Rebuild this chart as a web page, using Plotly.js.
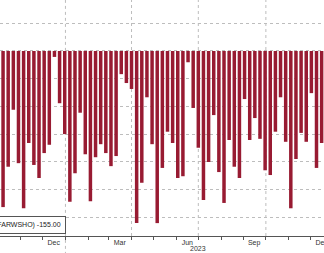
<!DOCTYPE html>
<html>
<head>
<meta charset="utf-8">
<script src="https://cdn.plot.ly/plotly-3.0.1.min.js"></script>
<style>html,body{margin:0;padding:0;background:#fff;overflow:hidden}#chart{width:324px;height:253px}</style>
</head>
<body>
<div id="chart"></div>
<script>
// Weekly observation dates
const weekDates = [
  '2022-10-08','2022-10-15','2022-10-22','2022-10-29','2022-11-05','2022-11-12','2022-11-19','2022-11-26',
  '2022-12-03','2022-12-10','2022-12-17','2022-12-24','2022-12-31',
  '2023-01-07','2023-01-14','2023-01-21','2023-01-28','2023-02-04','2023-02-11','2023-02-18','2023-02-25',
  '2023-03-04','2023-03-11','2023-03-18','2023-03-25','2023-04-01','2023-04-08','2023-04-15','2023-04-22',
  '2023-04-29','2023-05-06','2023-05-13','2023-05-20','2023-05-27','2023-06-03','2023-06-10','2023-06-17',
  '2023-06-24','2023-07-01','2023-07-08','2023-07-15','2023-07-22','2023-07-29','2023-08-05','2023-08-12',
  '2023-08-19','2023-08-26','2023-09-02','2023-09-09','2023-09-16','2023-09-23','2023-09-30','2023-10-07',
  '2023-10-14','2023-10-21','2023-10-28','2023-11-04','2023-11-11','2023-11-18','2023-11-25','2023-12-02',
  '2023-12-09','2023-12-16'
];
// Weekly values
const weeklyValues = [
  -263,-195,-99,-189,-265,-155,-192,-214,-172,-158,-10,-88,-140,
  -254,-206,-104,-174,-253,-179,-157,-172,-194,-177,-39,-54,-64,
  -290,-222,-78,-157,-290,-197,-136,-155,-214,-211,-19,-96,-163,
  -251,-187,-108,-204,-256,-150,-195,-214,-81,-150,-113,-148,-201,
  -209,-136,-78,-153,-265,-182,-138,-153,-71,-197,-155
];
// Axis labels
const monthLabelDates = ['2022-12-16','2023-03-16','2023-06-16','2023-09-15','2023-12-16'];
const monthLabels = ['Dec','Mar','Jun','Sep','Dec'];
const quarterStarts = ['2023-01-01','2023-04-01','2023-07-01','2023-10-01'];
const yearLabel = '2023';
const yearLabelDate = '2023-07-01';
const legendText = '(FARWSHO) -155.00';

const xRange = ['2022-10-03 20:00','2023-12-19 05:00'];
const gridColor = '#bdbdbd';

const shapes = quarterStarts.map((d, i) => ({
  type: 'line', xref: 'x', yref: 'paper', x0: d, x1: d,
  y0: d.endsWith('01-01') ? -0.08 : 0, y1: 1,
  line: {color: gridColor, width: 1, dash: 'dot'}, layer: 'below'
}));

const trace = {
  type: 'bar', x: weekDates, y: weeklyValues,
  marker: {color: '#981b32', line: {width: 0}},
  hoverinfo: 'skip'
};

const layout = {
  width: 324, height: 253,
  margin: {l: 0, r: 0, t: 0, b: 17},
  paper_bgcolor: '#ffffff', plot_bgcolor: '#ffffff',
  showlegend: false,
  bargap: 0.32,
  font: {family: 'Liberation Sans, Arial, sans-serif', size: 7, color: '#333'},
  xaxis: {
    type: 'date', range: xRange,
    tickmode: 'array', tickvals: monthLabelDates, ticktext: monthLabels,
    ticks: '', showgrid: false, zeroline: false,
    showline: true, linecolor: '#555', linewidth: 1,
    ticklabeloverflow: 'allow',
    tickfont: {size: 7, color: '#333'},
    minor: {dtick: 'M1', tick0: '2022-10-01', ticks: 'outside', ticklen: 3, tickcolor: '#555', showgrid: false}
  },
  yaxis: {
    range: [-311.7, 85.9], tick0: 0, dtick: 46.7,
    showticklabels: false, ticks: '',
    showgrid: true, gridcolor: gridColor, griddash: 'dot', gridwidth: 1,
    zeroline: false, showline: false
  },
  shapes: shapes,
  annotations: [
    {xref: 'x', yref: 'paper', x: yearLabelDate, y: -0.053, yanchor: 'middle', xanchor: 'center',
     text: yearLabel, showarrow: false, font: {size: 7, color: '#333'}},
    {xref: 'paper', yref: 'paper', x: 0.203, y: 0.045, xanchor: 'right', yanchor: 'middle',
     text: legendText, showarrow: false, bgcolor: '#ffffff', bordercolor: '#555', borderwidth: 1, borderpad: 4,
     font: {size: 7, color: '#222'}}
  ]
};

Plotly.newPlot('chart', [trace], layout, {staticPlot: true, displayModeBar: false});
</script>
</body>
</html>
